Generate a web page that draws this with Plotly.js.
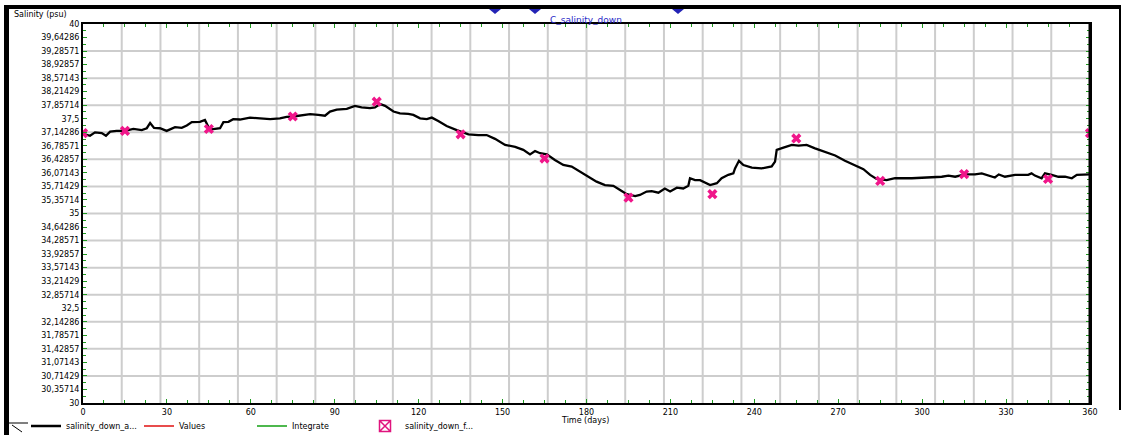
<!DOCTYPE html>
<html><head><meta charset="utf-8">
<script src="https://cdn.plot.ly/plotly-3.0.1.min.js"></script>
<style>html,body{margin:0;padding:0;background:#fff}#chart{width:1134px;height:435px}</style>
</head><body><div id="chart"></div>
<script>
// ---- data ----
const lineDays = [0,0.7,2.5,4.3,6.7,8.2,9.7,12,15,18,21,22.8,24,25.4,27.5,29.9,32.9,35.3,37.1,38.9,41.8,43.6,44.8,46,49,50.2,52,53.7,56.1,59.7,63.3,66.9,70.4,72.8,75.2,77.6,81.2,84.1,86.5,88.3,90.7,94.3,97.2,99.6,102.6,104.4,106.2,108,111,113.3,116.3,118.1,120.5,122.9,124.7,127,130,133.6,137.8,141.3,144.3,147.3,150.9,154.5,157.4,159.8,161.6,163.4,165.8,168.7,171.7,174.7,177.7,180.7,183.6,186.6,189.6,192,194.4,197.4,199.1,201.5,203.3,205.7,208,209.9,212.3,214.6,216.4,217,218.8,220.6,222.4,224.2,226.6,228.3,230.7,232.5,233.1,234.5,236.1,239.1,242.6,246.2,247.4,248,250.4,253.4,255.8,258.7,261.7,265.3,268.9,272.4,276,279,281.4,283.7,287.3,290.3,296.3,302.2,307,309.4,311.8,315.3,318.9,321.3,323.6,326,327.4,329.6,333.2,337.9,339.1,340.3,342.7,343.9,346.3,348.7,351.1,353.5,355.3,357.6,360];
const lineSalinity = [37.12,37.09,37.05,37.14,37.12,37.05,37.16,37.18,37.18,37.23,37.20,37.25,37.39,37.26,37.25,37.18,37.28,37.26,37.32,37.41,37.42,37.47,37.29,37.22,37.25,37.41,37.42,37.49,37.48,37.53,37.51,37.49,37.51,37.55,37.56,37.58,37.62,37.60,37.58,37.69,37.74,37.76,37.84,37.80,37.78,37.80,37.89,37.84,37.69,37.64,37.63,37.60,37.51,37.49,37.53,37.44,37.31,37.20,37.09,37.07,37.07,36.97,36.81,36.76,36.68,36.56,36.65,36.59,36.56,36.41,36.28,36.24,36.10,35.97,35.84,35.75,35.73,35.62,35.51,35.46,35.49,35.58,35.59,35.55,35.66,35.58,35.68,35.66,35.73,35.93,35.88,35.88,35.82,35.75,35.80,35.93,36.02,36.06,36.19,36.39,36.28,36.21,36.19,36.24,36.37,36.68,36.74,36.81,36.79,36.81,36.72,36.63,36.53,36.39,36.26,36.17,36.02,35.91,35.88,35.93,35.93,35.95,35.97,36.00,35.97,36.03,36.03,36.06,36.00,35.95,36.03,35.97,36.02,36.02,36.06,36.00,35.93,36.06,36.02,35.97,35.97,35.93,36.02,36.03,36.03];
const sampleDays = [0,15,45,75,105,135,165,195,225,255,285,315,345,360];
const sampleSalinity = [37.12,37.18,37.23,37.56,37.95,37.09,36.45,35.42,35.51,36.98,35.86,36.04,35.91,37.12];
const xTickLabels = ['0','30','60','90','120','150','180','210','240','270','300','330','360'];
const seriesNames = ['salinity_down_a...','Values','Integrate','salinity_down_f...'];
const chartTitle = 'C_salinity_down';
const yTitle = 'Salinity (psu)';
const xTitle = 'Time (days)';

// ---- axis helpers ----
const X0 = 0, X1 = 360, Y0 = 30, Y1 = 40;
const yDiv = 28;
const yTickVals = [], yTickText = [];
for (let k = 0; k <= yDiv; k++) {
  const v = Y0 + k * (Y1 - Y0) / yDiv;
  yTickVals.push(v);
  yTickText.push((Math.round(v * 1e5) / 1e5).toString().replace('.', ','));
}
const xTickVals = xTickLabels.map(Number);

const L = 83, R = 1090, T = 24, B = 403;
const px = x => (x - L) / (R - L);
const py = y => (B - y) / (B - T);

const font = 'DejaVu Sans, Liberation Sans, sans-serif';
const green = '#1f9a1f';
const shapes = [];
for (let k = 1; k < 26; k++) {
  const v = X0 + k * (X1 - X0) / 26;
  shapes.push({type:'line', xref:'x', yref:'paper', x0:v, x1:v, y0:0, y1:1, layer:'below', line:{color:'#cdcdcd', width:2}});
}
for (let k = 1; k < 14; k++) {
  const v = Y0 + k * (Y1 - Y0) / 14;
  shapes.push({type:'line', xref:'paper', yref:'y', x0:0, x1:1, y0:v, y1:v, layer:'below', line:{color:'#cdcdcd', width:2}});
}
shapes.push({type:'rect', xref:'paper', yref:'paper', x0:px(4), x1:px(9), y0:py(435), y1:py(5), fillcolor:'#000', line:{width:0}});
shapes.push({type:'rect', xref:'paper', yref:'paper', x0:px(4), x1:px(1121), y0:py(9), y1:py(5), fillcolor:'#000', line:{width:0}});
shapes.push({type:'line', xref:'paper', yref:'paper', x0:px(1120), x1:px(1120), y0:py(410), y1:py(5), line:{color:'#000', width:2}});
shapes.push({type:'line', xref:'paper', yref:'paper', x0:1, x1:1, y0:0, y1:1, line:{color:'#000', width:3}});
[495, 535, 678].forEach(c => {
  shapes.push({type:'path', xref:'paper', yref:'paper',
    path:`M ${px(c-6)} ${py(9)} L ${px(c+6)} ${py(9)} L ${px(c)} ${py(14)} Z`,
    fillcolor:'#2323b5', line:{width:0}});
});
shapes.push({type:'path', xref:'paper', yref:'paper',
  path:`M ${px(9)} ${py(423)} L ${px(28)} ${py(423)} M ${px(12)} ${py(425)} L ${px(22)} ${py(432)}`,
  line:{color:'#000', width:1}});

const traces = [
  {type:'scatter', mode:'lines', name:seriesNames[0], x:lineDays, y:lineSalinity,
   line:{color:'#000', width:2.3}, hoverinfo:'skip'},
  {type:'scatter', mode:'lines', name:seriesNames[1], x:[null], y:[null], line:{color:'#e01010', width:1.5}},
  {type:'scatter', mode:'lines', name:seriesNames[2], x:[null], y:[null], line:{color:'#13a013', width:1.5}},
  {type:'scatter', mode:'markers', name:seriesNames[3], x:[null], y:[null], legendgroup:'f',
   marker:{symbol:'square-x-open', size:11, color:'#e0147e', line:{width:1.5}}},
  {type:'scatter', mode:'markers', name:seriesNames[3], x:sampleDays, y:sampleSalinity, legendgroup:'f', showlegend:false,
   marker:{symbol:'x', size:9, color:'#f0168a', line:{width:0}}, hoverinfo:'skip'}
];

const layout = {
  width:1134, height:435,
  margin:{l:L, r:1134-R, t:T, b:435-B, autoexpand:false},
  paper_bgcolor:'#fff', plot_bgcolor:'#fff',
  font:{family:font, size:8, color:'#000'},
  showlegend:true,
  legend:{orientation:'h', x:px(26), y:py(426), xanchor:'left', yanchor:'middle',
          entrywidth:68, entrywidthmode:'pixels', itemwidth:30, font:{family:font, size:8},
          bgcolor:'rgba(0,0,0,0)', traceorder:'normal'},
  xaxis:{range:[X0, X1], tickmode:'array', tickvals:xTickVals, ticktext:xTickLabels,
    ticks:'inside', ticklen:4, tickwidth:1, tickcolor:green, showgrid:false, zeroline:false,
    showline:true, linecolor:'#000', linewidth:2, mirror:'allticks', automargin:false,
    tickfont:{family:font, size:8, color:'#000'},
    minor:{tickmode:'linear', tick0:0, dtick:7.5, ticks:'inside', ticklen:3, tickwidth:1, tickcolor:green, showgrid:false}},
  yaxis:{range:[Y0, Y1], tickmode:'array', tickvals:yTickVals, ticktext:yTickText,
    ticks:'inside', ticklen:4, tickwidth:1, tickcolor:green, showgrid:false, zeroline:false,
    showline:true, linecolor:'#000', linewidth:2, mirror:'allticks', automargin:false,
    tickfont:{family:font, size:8, color:'#000'},
    minor:{tickmode:'linear', tick0:Y0, dtick:(Y1-Y0)/56, ticks:'inside', ticklen:3, tickwidth:1, tickcolor:green, showgrid:false}},
  shapes:shapes,
  annotations:[
    {text:yTitle, xref:'paper', yref:'paper', x:px(12), y:py(14), xanchor:'left', yanchor:'middle', showarrow:false, font:{family:font, size:8, color:'#000'}},
    {text:chartTitle, xref:'paper', yref:'paper', x:px(586), y:py(20), xanchor:'center', yanchor:'middle', showarrow:false, font:{family:font, size:9, color:'#2a2ac8'}},
    {text:xTitle, xref:'paper', yref:'paper', x:px(585), y:py(420), xanchor:'center', yanchor:'middle', showarrow:false, font:{family:font, size:8, color:'#000'}}
  ]
};
Plotly.newPlot('chart', traces, layout, {staticPlot:true, displayModeBar:false});
</script></body></html>
